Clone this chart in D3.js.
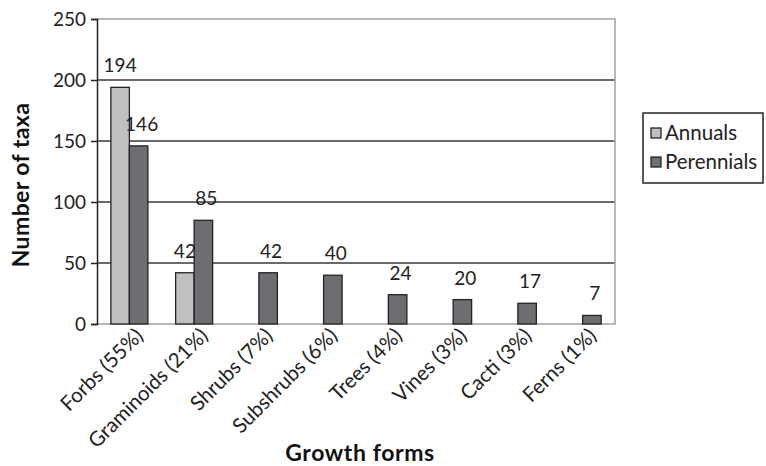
<!DOCTYPE html>
<html>
<head>
<meta charset="utf-8">
<script src="https://cdn.jsdelivr.net/npm/d3@7"></script>
<style>
  html, body { margin: 0; padding: 0; background: #fff; }
  svg { display: block; font-family: "Lato", "Open Sans", sans-serif; }
</style>
</head>
<body>
<svg id="chart" width="766" height="466"></svg>
<script>
// Growth forms and taxa counts
const categories = ["Forbs (55%)", "Graminoids (21%)", "Shrubs (7%)", "Subshrubs (6%)",
                    "Trees (4%)", "Vines (3%)", "Cacti (3%)", "Ferns (1%)"];
const seriesNames = ["Annuals", "Perennials"];
const annuals    = [194, 42, null, null, null, null, null, null];
const perennials = [146, 85, 42, 40, 24, 20, 17, 7];
const yTicks = [0, 50, 100, 150, 200, 250];
const seriesColors = ["#c0c0c0", "#6e6e72"];

const FONT = "Lato, 'Open Sans', sans-serif";
const svg = d3.select("#chart");
const margin = { left: 97, right: 151, top: 19, bottom: 142 };
const W = 766, H = 466;
const plotW = W - margin.left - margin.right;
const plotH = H - margin.top - margin.bottom;

const x = d3.scaleBand().domain(categories).range([margin.left, margin.left + plotW]);
// two bars plus a gap of 1.5 bar widths per category
const barW = x.bandwidth() / 3.5;
const xs = d3.scaleBand().domain(seriesNames).range([0, barW * 2]);
const y = d3.scaleLinear().domain([0, 250]).range([margin.top + plotH, margin.top]);

// gridlines
svg.append("g").selectAll("line")
  .data(yTicks.filter(t => t > 0 && t < 250))
  .join("line")
  .attr("x1", margin.left).attr("x2", margin.left + plotW)
  .attr("y1", d => y(d)).attr("y2", d => y(d))
  .attr("stroke", "#3a3a3a").attr("stroke-width", 1.3);

// plot frame (top, right, bottom)
svg.append("path")
  .attr("d", `M${margin.left},${y(250)}H${margin.left + plotW}V${y(0)}H${margin.left}`)
  .attr("fill", "none").attr("stroke", "#a0a0a0").attr("stroke-width", 1.5);

// bars
const rows = categories.map((c, i) => ({ c, vals: [annuals[i], perennials[i]] }));
const groups = svg.append("g").selectAll("g")
  .data(rows).join("g")
  .attr("transform", d => `translate(${x(d.c) + (x.bandwidth() - barW * 2) / 2},0)`);

groups.selectAll("rect")
  .data(d => d.vals.map((v, k) => ({ v, k })).filter(e => e.v != null))
  .join("rect")
  .attr("x", e => xs(seriesNames[e.k]))
  .attr("width", xs.bandwidth())
  .attr("y", e => y(e.v))
  .attr("height", e => y(0) - y(e.v))
  .attr("fill", e => seriesColors[e.k])
  .attr("stroke", "#222").attr("stroke-width", 1.3);

groups.selectAll("text")
  .data(d => d.vals.map((v, k) => ({ v, k })).filter(e => e.v != null))
  .join("text")
  .attr("x", e => xs(seriesNames[e.k]) + xs.bandwidth() / 2 + (e.k === 1 ? 3 : 0))
  .attr("y", e => y(e.v) - 15)
  .attr("text-anchor", "middle")
  .attr("font-size", 19).attr("fill", "#222")
  .text(e => e.v);

// y axis
const yAxis = svg.append("g")
  .attr("transform", `translate(${margin.left},0)`)
  .call(d3.axisLeft(y).tickValues(yTicks).tickSize(6).tickPadding(5));
yAxis.select(".domain").attr("stroke", "#222").attr("stroke-width", 1.5);
yAxis.selectAll(".tick line").attr("stroke", "#222").attr("stroke-width", 1.5);
yAxis.selectAll(".tick text").attr("font-size", 19).attr("fill", "#222")
  .attr("font-family", FONT);

// x axis labels, rotated
const xAxis = svg.append("g")
  .attr("transform", `translate(0,${y(0)})`)
  .call(d3.axisBottom(x).tickSize(0).tickPadding(0));
xAxis.select(".domain").remove();
xAxis.selectAll(".tick text")
  .attr("font-size", 20.5).attr("fill", "#222")
  .attr("font-family", FONT)
  .attr("text-anchor", "end")
  .attr("dy", 0)
  .attr("transform", "translate(15,13) rotate(-45)");

// axis titles
svg.append("text")
  .attr("x", 360).attr("y", 461)
  .attr("text-anchor", "middle")
  .attr("font-size", 23).attr("font-weight", "bold").attr("fill", "#111")
  .attr("letter-spacing", 0.6)
  .text("Growth forms");

svg.append("text")
  .attr("transform", `translate(29,${185}) rotate(-90)`)
  .attr("text-anchor", "middle")
  .attr("font-size", 23).attr("font-weight", "bold").attr("fill", "#111")
  .attr("letter-spacing", 0.4)
  .text("Number of taxa");

// legend
const lg = svg.append("g").attr("transform", "translate(643,113)");
lg.append("rect").attr("width", 120).attr("height", 70)
  .attr("fill", "#fff").attr("stroke", "#222").attr("stroke-width", 1.5);
seriesNames.forEach((name, i) => {
  const cy = 20 + i * 29;
  lg.append("rect").attr("x", 8).attr("y", cy - 5).attr("width", 10).attr("height", 10)
    .attr("fill", seriesColors[i]).attr("stroke", "#222").attr("stroke-width", 1.3);
  lg.append("text").attr("x", 22).attr("y", cy + 7)
    .attr("font-size", 20.5).attr("fill", "#222").text(name);
});
</script>
</body>
</html>
